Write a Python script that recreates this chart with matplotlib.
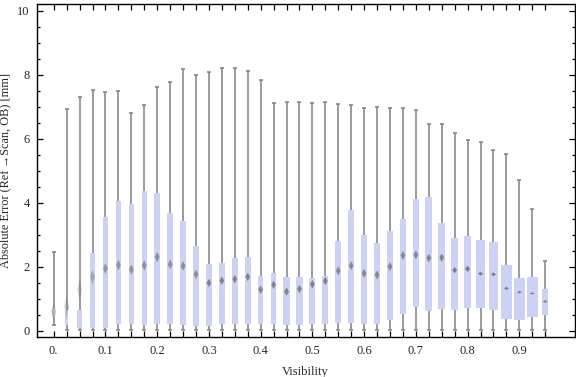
import numpy as np
import matplotlib
matplotlib.use("Agg")
import matplotlib.pyplot as plt
from matplotlib.patches import Polygon

# --- data (one entry per visibility bin) ---
visibility = [i * 0.025 for i in range(39)]
whisker_low = [0.17] + [0.01] * 38
whisker_high = [2.46, 6.92, 7.29, 7.52, 7.44, 7.48, 6.79, 7.04, 7.60, 7.76,
                8.16, 8.00, 8.07, 8.22, 8.19, 8.10, 7.82, 7.10, 7.13, 7.13,
                7.10, 7.13, 7.07, 7.04, 6.97, 7.00, 6.94, 6.94, 6.88, 6.47,
                6.44, 6.16, 5.97, 5.88, 5.63, 5.51, 4.72, 3.79, 2.17]
q1 = [0.43, 0.17, 0.07, 0.09, 0.09, 0.20, 0.20, 0.18, 0.20, 0.20,
      0.17, 0.15, 0.15, 0.20, 0.20, 0.20, 0.20, 0.20, 0.17, 0.17,
      0.22, 0.20, 0.24, 0.24, 0.20, 0.20, 0.34, 0.53, 0.74, 0.62,
      0.68, 0.63, 0.71, 0.71, 0.65, 0.37, 0.34, 0.43, 0.49]
q3 = [0.71, 0.64, 0.64, 2.42, 3.55, 4.05, 3.97, 4.36, 4.30, 3.67,
      3.44, 2.64, 2.08, 2.11, 2.27, 2.30, 1.70, 1.80, 1.67, 1.67,
      1.66, 1.70, 2.80, 3.77, 2.98, 2.73, 3.11, 3.48, 4.11, 4.17,
      3.36, 2.89, 2.95, 2.83, 2.77, 2.05, 1.64, 1.67, 1.31]
mean = [0.59, 0.75, 1.27, 1.68, 1.94, 2.05, 1.91, 2.04, 2.30, 2.07,
        2.02, 1.76, 1.49, 1.56, 1.61, 1.68, 1.28, 1.43, 1.22, 1.30,
        1.45, 1.55, 1.87, 2.03, 1.79, 1.74, 2.00, 2.35, 2.37, 2.27,
        2.28, 1.89, 1.93, 1.78, 1.76, 1.32, 1.20, 1.16, 0.91]
mean_ci = [0.30, 0.35, 0.35, 0.22, 0.17, 0.17, 0.16, 0.16, 0.16, 0.16,
           0.15, 0.15, 0.13, 0.13, 0.13, 0.13, 0.13, 0.13, 0.13, 0.13,
           0.13, 0.13, 0.14, 0.14, 0.14, 0.14, 0.14, 0.14, 0.14, 0.13,
           0.13, 0.10, 0.10, 0.06, 0.06, 0.05, 0.04, 0.03, 0.04]
x_labels = ["0.", "0.1", "0.2", "0.3", "0.4", "0.5", "0.6", "0.7", "0.8", "0.9"]

# box widths in pixels (the chart draws them with varying width)
box_w_px = [3, 3.7, 4.3, 5.3, 5.3, 5, 5, 5, 6, 6,
            5.3, 5.7, 5.7, 5.7, 5.7, 5.7, 5.7, 5.7, 6.3, 7,
            6, 5.7, 5.7, 6, 6, 6, 5.7, 5.7, 6, 6.7,
            7, 7, 7, 9, 9, 11.3, 11, 10.7, 5.7]

PX = 1 / 517.5          # one pixel in x data units
BOX_COLOR = "#cbd2f4"
GRAY = "#808080"
TXT = "#262626"

plt.rcParams["font.family"] = ["Liberation Serif", "DejaVu Serif"]

fig = plt.figure(figsize=(5.76, 3.77), dpi=100)
ax = fig.add_axes([0.0634, 0.106, 0.9346, 0.883])

x = np.array(visibility)
widths = np.array(box_w_px) * PX

# whiskers + caps
ax.vlines(x, whisker_low, whisker_high, color=GRAY, lw=1.1, zorder=1)
ax.hlines(whisker_high, x - 2 * PX, x + 2 * PX, color=GRAY, lw=1.1, zorder=1)
ax.hlines(whisker_low, x - 2 * PX, x + 2 * PX, color=GRAY, lw=1.1, zorder=1)

# boxes
ax.bar(x, np.array(q3) - np.array(q1), bottom=q1, width=widths,
       color=BOX_COLOR, edgecolor="none", zorder=2)

# mean diamonds (faded when the interval is wide)
for xi, m, ci in zip(x, mean, mean_ci):
    hw = 2.4 * PX
    a = min(1.0, 0.12 / ci) * 0.85
    poly = Polygon([[xi - hw, m], [xi, m + ci], [xi + hw, m], [xi, m - ci]],
                   closed=True, facecolor="#6f6f6f", edgecolor="none",
                   alpha=a, zorder=3)
    ax.add_patch(poly)

ax.set_xlim(x[0] - 17.2 * PX, x[0] + 521.3 * PX)
ax.set_ylim(-0.2, 10.2)

# ticks
ax.set_xticks(x)
ax.set_xticklabels([x_labels[i // 4] if i % 4 == 0 else "" for i in range(len(x))])
ax.set_yticks(np.arange(0, 11, 2))
ax.set_yticks(np.arange(0, 10.5, 0.5), minor=True)
ax.tick_params(axis="both", which="both", direction="in", top=True, right=True,
               color="black", width=0.9, labelcolor=TXT, labelsize=9)
ax.tick_params(axis="y", which="major", length=4.5)
ax.tick_params(axis="y", which="minor", length=2.5)
ax.tick_params(axis="x", which="major", length=4, pad=6)
ax.tick_params(axis="y", which="major", pad=5)
for s in ax.spines.values():
    s.set_linewidth(1.0)

ax.set_xlabel("Visibility", fontsize=9, color=TXT, labelpad=6)
ax.set_ylabel("Absolute Error (Ref\u2009\u2192Scan, OB) [mm]", fontsize=8.8, color=TXT)
ax.yaxis.set_label_coords(-0.046, 0.5)

fig.savefig("out.png", dpi=100)
